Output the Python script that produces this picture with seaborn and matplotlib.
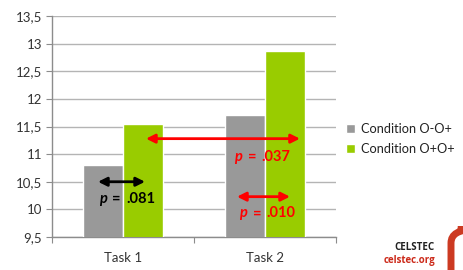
import pandas as pd
import numpy as np
import seaborn as sns
import matplotlib.pyplot as plt
from matplotlib.patches import FancyBboxPatch

# dati
tasks = ["Task 1", "Task 2"]
condizioni = ["Condition O-O+", "Condition O+O+"]
valori_oo = [10.8, 11.7]
valori_opo = [11.55, 12.87]
colori = ["#999999", "#99cc00"]
y_ticks = [9.5, 10, 10.5, 11, 11.5, 12, 12.5, 13, 13.5]
y_labels = ["9,5", "10", "10,5", "11", "11,5", "12", "12,5", "13", "13,5"]

df = pd.DataFrame({
    "task": tasks * 2,
    "condizione": [condizioni[0]] * 2 + [condizioni[1]] * 2,
    "valore": valori_oo + valori_opo,
})

sns.set_style("white")
plt.rcParams["font.family"] = ["Lato", "DejaVu Sans"]

fig = plt.figure(figsize=(4.64, 2.70), dpi=100)
ax = fig.add_axes([52 / 464, 33 / 270, 284 / 464, 221 / 270])

sns.barplot(data=df, x="task", y="valore", hue="condizione", palette=colori,
            width=0.56, saturation=1, ax=ax, zorder=3)

ax.set_ylim(9.5, 13.5)
ax.set_xlim(-0.5, 1.5)
ax.set_yticks(y_ticks)
ax.set_yticklabels(y_labels)
ax.set_xlabel("")
ax.set_ylabel("")
ax.yaxis.grid(True, color="#b4b4b4", linewidth=1)
ax.set_axisbelow(True)

for s in ["top", "right"]:
    ax.spines[s].set_visible(False)
for s in ["left", "bottom"]:
    ax.spines[s].set_color("#8c8c8c")
    ax.spines[s].set_linewidth(1)

ax.tick_params(axis="y", left=True, length=4, color="#8c8c8c", labelsize=9.5, pad=3, labelcolor="#333333")
ax.set_xticks([-0.5, 0.5, 1.5], minor=False)
ax.set_xticklabels(["", "", ""])
ax.set_xticks([0, 1], minor=True)
ax.set_xticklabels(tasks, minor=True)
ax.tick_params(axis="x", which="major", bottom=True, length=4, color="#8c8c8c")
ax.tick_params(axis="x", which="minor", bottom=False, labelsize=9.5, pad=9, labelcolor="#333333")

# frecce e valori p
def freccia(x0, x1, y, col):
    ax.annotate("", xy=(x0, y), xytext=(x1, y),
                arrowprops=dict(arrowstyle="<|-|>", color=col, lw=2, mutation_scale=13,
                                shrinkA=0, shrinkB=0), zorder=5)

def testo_p(x, y, val, col):
    ax.text(x, y, "p", color=col, fontsize=10.5, fontweight="bold", fontstyle="italic",
            ha="left", va="center", zorder=5)
    ax.text(x + 0.095, y, "=", color=col, fontsize=10.5, fontweight="bold",
            ha="left", va="center", zorder=5)
    ax.text(x + 0.19, y, val, color=col, fontsize=10.5, fontweight="bold",
            ha="left", va="center", zorder=5)

freccia(-0.176, 0.155, 10.5, "black")
testo_p(-0.169, 10.19, ".081", "black")
freccia(0.162, 1.246, 11.28, "#ff0000")
testo_p(0.782, 10.95, ".037", "#ff0000")
freccia(0.803, 1.176, 10.23, "#ff0000")
testo_p(0.817, 9.93, ".010", "#ff0000")

leg = ax.legend(loc="upper left", bbox_to_anchor=(346 / 464, 1 - 123 / 270),
                bbox_transform=fig.transFigure, frameon=False, fontsize=9.2,
                handlelength=0.7, handleheight=0.7, handletextpad=0.5,
                labelspacing=0.6, borderaxespad=0, borderpad=0)
for t in leg.get_texts():
    t.set_color("#222222")

# logo
fig.text(435 / 464, 1 - 248 / 270, "CELSTEC", fontsize=7, fontweight="bold",
         color="#222222", ha="right", va="center", family="Open Sans")
fig.text(435 / 464, 1 - 261 / 270, "celstec.org", fontsize=7, fontweight="bold",
         color="#cc2a1a", ha="right", va="center", family="Open Sans")
fig.patches.append(FancyBboxPatch((451 / 464, -0.1), 30 / 464, 0.25,
                                  boxstyle="round,pad=0,rounding_size=0.05",
                                  transform=fig.transFigure, facecolor="white",
                                  edgecolor="#cc3a22", linewidth=5, clip_on=False))

fig.savefig("out.png", dpi=100)
